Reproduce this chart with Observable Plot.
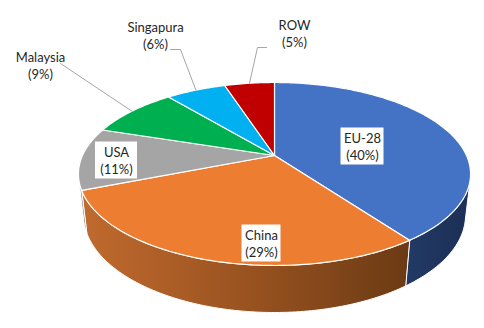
<!DOCTYPE html>
<html>
<head>
<meta charset="utf-8">
<script src="https://cdn.jsdelivr.net/npm/d3@7"></script>
<script src="https://cdn.jsdelivr.net/npm/@observablehq/plot@0.6"></script>
<style>
  html, body { margin: 0; padding: 0; background: #fff; }
  #chart svg { display: block; }
</style>
</head>
<body>
<div id="chart"></div>
<script>
// ---- data ----
const categories = ["EU-28", "China", "USA", "Malaysia", "Singapura", "ROW"];
const shares = [40, 29, 11, 9, 6, 5];
const topColors = ["#4472c4", "#ed7d31", "#a5a5a5", "#00b050", "#00b0f0", "#c00000"];
const sideFills = ["url(#gEU)", "url(#gChina)", "url(#gUSA)", "#008a3e", "#0089bb", "#900000"];
const insideLabel = [true, true, true, false, false, false];

// ---- layout config (label placement, in pixels) ----
const labelX = [362, 261, 116, 40, 155, 294];
const labelY = [146, 243, 160, 65, 35, 33];
const boxW = [43, 39, 42, 0, 0, 0];
const boxH = 37;
// leader line start points (outside labels)
const leaderStart = {3: [[60, 63]], 4: [[170, 49], [180, 49]], 5: [[266, 47], [257, 47]]};

// ---- 3D perspective projection of the pie ----
const W = 484, H = 328;
const cx = 274, cy = 155, F = 192, sinP = 0.457, cosP = 0.889, a = 0.2274, depthK = 0.243;
function proj(thetaDeg, r, z) {
  const t = thetaDeg * Math.PI / 180;
  const X = r * Math.sin(t), Y = r * Math.cos(t), Z = z;
  const depth = 1 + a * (Y * cosP - Z * sinP);
  const up = Y * sinP + Z * cosP;
  return {x: cx + F * X / depth, y: cy - F * up / depth};
}
const visA = Math.acos(-a / cosP) * 180 / Math.PI; // side visible from visA to 360-visA
const visB = 360 - visA;

const total = d3.sum(shares);
let cum = 0;
const slices = categories.map((name, i) => {
  const start = cum / total * 360;
  cum += shares[i];
  const end = cum / total * 360;
  return {i, name, start, end, mid: (start + end) / 2};
});

function arc(t1, t2, z) {
  const n = Math.max(2, Math.ceil(Math.abs(t2 - t1)));
  return d3.range(n + 1).map(j => proj(t1 + (t2 - t1) * j / n, 1, z));
}

const marks = [];
// sides
slices.forEach(s => {
  const t1 = Math.max(s.start, visA), t2 = Math.min(s.end, visB);
  if (t2 <= t1) return;
  const pts = [...arc(t1, t2, 0), ...arc(t2, t1, -depthK)];
  marks.push(Plot.line(pts, {x: "x", y: "y", curve: "linear-closed", fill: sideFills[s.i], stroke: "white", strokeWidth: 1}));
});
// top faces
slices.forEach(s => {
  const pts = [proj(0, 0, 0), ...arc(s.start, s.end, 0)];
  marks.push(Plot.line(pts, {x: "x", y: "y", curve: "linear-closed", fill: topColors[s.i], stroke: "white", strokeWidth: 1.2}));
});
// leader lines
const leaders = [];
slices.forEach(s => {
  if (!leaderStart[s.i]) return;
  const end = proj(s.mid, 1, 0);
  [...leaderStart[s.i].map(([x, y]) => ({x, y})), end].forEach(p => leaders.push({...p, id: s.i}));
});
marks.push(Plot.line(leaders, {x: "x", y: "y", z: "id", stroke: "#a6a6a6", strokeWidth: 1}));

const labels = slices.map(s => ({
  x: labelX[s.i], y: labelY[s.i], w: boxW[s.i], inside: insideLabel[s.i],
  text: `${s.name}\n(${shares[s.i]}%)`
}));
marks.push(Plot.rect(labels.filter(d => d.inside), {
  x1: d => d.x - d.w / 2, x2: d => d.x + d.w / 2,
  y1: d => d.y - boxH / 2, y2: d => d.y + boxH / 2, fill: "white"
}));
marks.push(Plot.text(labels, {x: "x", y: "y", text: "text", fill: "#262626", fontSize: 13, lineHeight: 1.3, fontFamily: "Lato, sans-serif"}));

const chart = Plot.plot({
  width: W, height: H, margin: 0,
  x: {domain: [0, W], range: [0, W], axis: null},
  y: {domain: [0, H], range: [0, H], axis: null},
  style: {fontFamily: "Lato, sans-serif", background: "white"},
  marks
});

// gradients for the sides
const defs = `
<defs>
  <linearGradient id="gChina" x1="0" y1="0" x2="1" y2="0">
    <stop offset="0" stop-color="#c06a2e"/>
    <stop offset="0.5" stop-color="#9a5320"/>
    <stop offset="1" stop-color="#6b3a14"/>
  </linearGradient>
  <linearGradient id="gEU" x1="0" y1="0" x2="1" y2="0">
    <stop offset="0" stop-color="#223a66"/>
    <stop offset="1" stop-color="#1c2f55"/>
  </linearGradient>
  <linearGradient id="gUSA" x1="0" y1="0" x2="1" y2="0">
    <stop offset="0" stop-color="#8c8c8c"/>
    <stop offset="1" stop-color="#7a7a7a"/>
  </linearGradient>
</defs>`;
chart.insertAdjacentHTML("afterbegin", defs);
document.getElementById("chart").appendChild(chart);
</script>
</body>
</html>
